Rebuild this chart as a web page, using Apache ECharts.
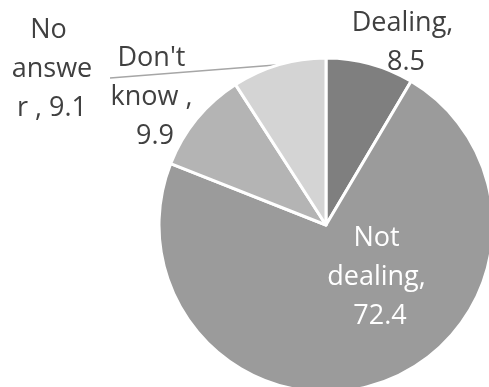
<!DOCTYPE html>
<html>
<head>
<meta charset="utf-8">
<script src="https://cdn.jsdelivr.net/npm/echarts@6/dist/echarts.min.js"></script>
<style>
  html, body { margin: 0; padding: 0; background: #ffffff; }
  #chart { width: 489px; height: 387px; }
</style>
</head>
<body>
<div id="chart"></div>
<script>
// Categories (trailing spaces kept as in the source labels) and their shares
const categories = ['Dealing', 'Not dealing', "Don't know ", 'No answer '];
const values = [8.5, 72.4, 9.9, 9.1];
const sliceColors = ['#7f7f7f', '#9b9b9b', '#b4b4b4', '#d4d4d4'];

// Label box centres and wrap widths for each slice label
const labelCentres = [[406, 43], [380, 277], [155, 97], [52, 69]];
const labelWidths = [112, 112, 92, 86];
const labelInside = [false, true, false, false];

const chart = echarts.init(document.getElementById('chart'), null, { renderer: 'canvas' });

const data = categories.map((name, i) => ({
  name: name,
  value: values[i],
  itemStyle: { color: sliceColors[i] },
  label: {
    width: labelWidths[i],
    overflow: 'break',
    color: labelInside[i] ? '#ffffff' : '#404040'
  },
  labelLine: { show: i === 3 }
}));

chart.setOption({
  animation: false,
  backgroundColor: '#ffffff',
  series: [{
    type: 'pie',
    center: [326, 225],
    radius: 167,
    startAngle: 90,
    clockwise: true,
    data: data,
    itemStyle: { borderColor: '#ffffff', borderWidth: 3 },
    label: {
      show: true,
      position: 'outside',
      formatter: '{b}, {c}',
      fontFamily: 'Open Sans',
      fontSize: 27,
      lineHeight: 39,
      align: 'center'
    },
    labelLine: {
      show: false,
      length: 10,
      length2: 10,
      lineStyle: { color: '#a6a6a6', width: 1.5 }
    },
    labelLayout: function (params) {
      const i = params.dataIndex;
      const c = labelCentres[i];
      const out = { x: c[0], y: c[1], align: 'center', verticalAlign: 'middle' };
      if (i === 3 && params.labelLinePoints) {
        out.labelLinePoints = [[110, 78], params.labelLinePoints[0]];
      }
      return out;
    }
  }]
});
</script>
</body>
</html>
